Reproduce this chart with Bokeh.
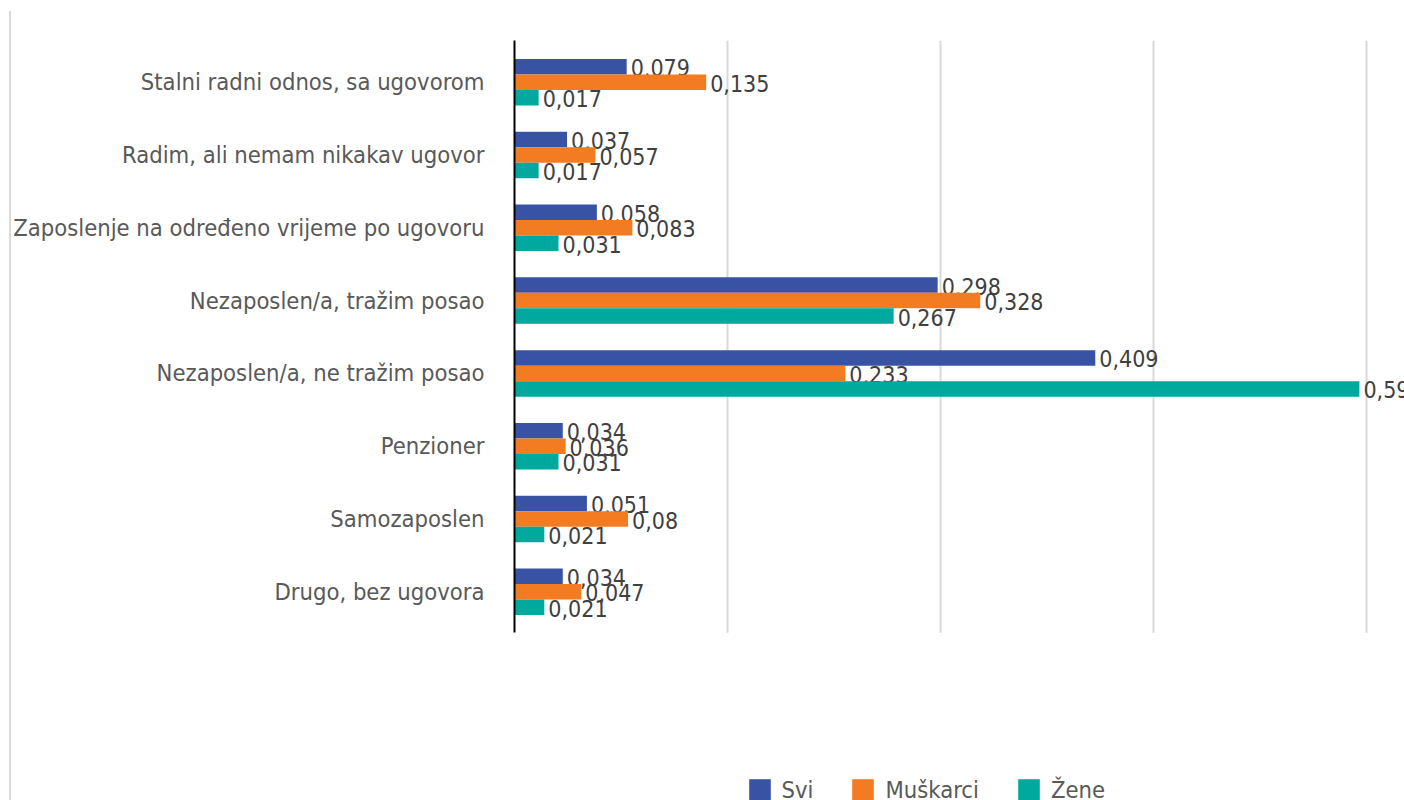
from bokeh.plotting import figure
from bokeh.models import Range1d, FixedTicker
from bokeh.core.properties import value
from bokeh.embed import file_html
from bokeh.resources import INLINE

categories = [
    "Stalni radni odnos, sa ugovorom",
    "Radim, ali nemam nikakav ugovor",
    "Zaposlenje na određeno vrijeme po ugovoru",
    "Nezaposlen/a, tražim posao",
    "Nezaposlen/a, ne tražim posao",
    "Penzioner",
    "Samozaposlen",
    "Drugo, bez ugovora",
]
svi = [0.079, 0.037, 0.058, 0.298, 0.409, 0.034, 0.051, 0.034]
muskarci = [0.135, 0.057, 0.083, 0.328, 0.233, 0.036, 0.08, 0.047]
zene = [0.017, 0.017, 0.031, 0.267, 0.595, 0.031, 0.021, 0.021]
series_names = ["Svi", "Muškarci", "Žene"]
grid_values = [0.15, 0.3, 0.45, 0.6]

colors = ["#3953A4", "#F37B21", "#00A99D"]
FONT = "DejaVu Sans Condensed"

W, H = 1404, 800
left_px, top_px = 514, 40
unit_px = 72.8
px_per_value = 1420.0

n = len(categories)
centers = [n - 0.5 - i for i in range(n)]
bar_h = 15.5 / unit_px
offsets = [bar_h, 0.0, -bar_h]

frame_h = H - top_px
y_end = (n - 0.5) + 41.7 / unit_px
y_start = y_end - frame_h / unit_px
g_bottom = 0.5 - 41.0 / unit_px

p = figure(
    width=W, height=H,
    x_range=Range1d(0, (W - left_px) / px_per_value),
    y_range=Range1d(y_start, y_end),
    x_axis_location=None,
    output_backend="svg", toolbar_location=None,
    min_border_left=left_px, min_border_right=0,
    min_border_top=top_px, min_border_bottom=0,
)
p.outline_line_color = None
p.border_fill_color = None
p.background_fill_color = "white"
p.xgrid.visible = False
p.ygrid.visible = False
# thin grey chart-area border on the far left
p.styles = {
    "background-color": "white",
    "background-image": "linear-gradient(#d9d9d9, #d9d9d9)",
    "background-repeat": "no-repeat",
    "background-position": "9px 11px",
    "background-size": "2px 789px",
}

p.segment(x0=grid_values, y0=[g_bottom] * len(grid_values),
          x1=grid_values, y1=[y_end] * len(grid_values),
          line_color="#d9d9d9", line_width=2)

for vals, name, col, off in zip([svi, muskarci, zene], series_names, colors, offsets):
    ys = [c + off for c in centers]
    p.hbar(y=ys, right=vals, left=0, height=bar_h, color=col, line_color=None,
           legend_label=name)
    labels = [f"{v:g}".replace(".", ",") for v in vals]
    p.text(x=vals, y=ys, text=labels, x_offset=4, y_offset=1,
           text_align="left", text_baseline="middle",
           text_font=value(FONT), text_font_size="23px", text_color="#404040")

ax = p.yaxis[0]
ax.ticker = FixedTicker(ticks=centers)
ax.major_label_overrides = {c: cat for c, cat in zip(centers, categories)}
ax.major_tick_line_color = None
ax.minor_tick_line_color = None
ax.major_tick_out = 0
ax.major_tick_in = 0
ax.major_label_standoff = 30
ax.major_label_text_font = FONT
ax.major_label_text_font_size = "23.6px"
ax.major_label_text_color = "#595959"
ax.axis_line_color = "black"
ax.axis_line_width = 2
ax.bounds = (g_bottom, y_end)

lg = p.legend[0]
lg.orientation = "horizontal"
lg.location = (231.5, -3.5)
lg.padding = 0
lg.margin = 0
lg.spacing = 36
lg.glyph_width = 27
lg.glyph_height = 27
lg.label_standoff = 9
lg.label_text_font = FONT
lg.label_text_font_size = "23.6px"
lg.label_text_color = "#595959"
lg.border_line_color = None
lg.background_fill_alpha = 0

open("out.html", "w").write(file_html(p, INLINE))
